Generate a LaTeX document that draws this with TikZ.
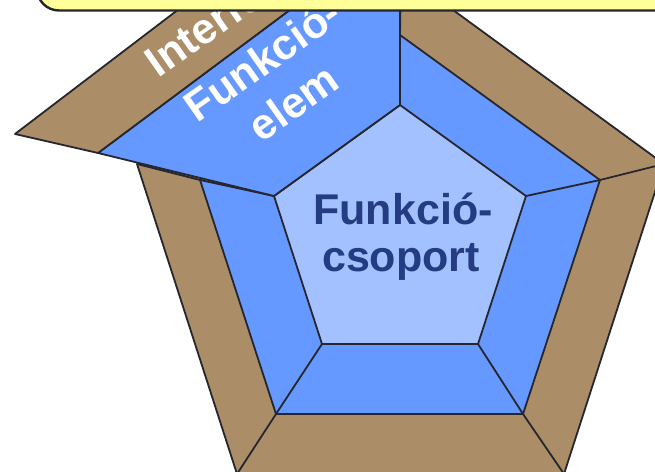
\documentclass[tikz,border=0pt]{standalone}
\usepackage{fontspec}
\setmainfont{Liberation Sans}
\usetikzlibrary{calc}
\definecolor{outCol}{HTML}{AB8D68}
\definecolor{midCol}{HTML}{6699FF}
\definecolor{inCol}{HTML}{A4C1FF}
\definecolor{edgeCol}{HTML}{26262E}
\definecolor{grpText}{HTML}{233C82}
\definecolor{noteCol}{HTML}{FFFF99}
\tikzset{
  seg/.style={draw=edgeCol, line width=1.8pt, line join=round},
  segfill/.style={seg, fill=#1},
  bigtxt/.style={font=\fontsize{43}{49}\selectfont\bfseries, inner sep=0pt, anchor=base},
  flaptxt/.style={bigtxt, text=white, rotate=35},
  note/.style={draw=edgeCol, fill=noteCol, line width=2.4pt, rounded corners=22pt},
}
\begin{document}
\begin{tikzpicture}[x=1pt,y=-1pt]
  \useasboundingbox (0,0) rectangle (655,471);
  \clip (0,0) rectangle (655,471);
  % --- vertices: inner, middle ring, outer ring ---
  \coordinate (iT) at (400,105); \coordinate (iUR) at (526,196);
  \coordinate (iLR) at (478,344); \coordinate (iLL) at (322,344);
  \coordinate (iUL) at (274,196);
  \coordinate (mT) at (400,35); \coordinate (mUR) at (600,180);
  \coordinate (mLR) at (523,414); \coordinate (mLL) at (276,414);
  \coordinate (mUL) at (200,180);
  \coordinate (oT) at (401,-28); \coordinate (oUR) at (664,164);
  \coordinate (oLR) at (564,474); \coordinate (oLL) at (237,474);
  \coordinate (oUL) at (137,164);
  % --- pentagon in place ---
  \path[segfill=outCol] (oT)--(oUR)--(oLR)--(oLL)--(oUL)--cycle;
  \path[segfill=midCol] (mT)--(mUR)--(mLR)--(mLL)--(mUL)--cycle;
  \path[segfill=inCol] (iT)--(iUR)--(iLR)--(iLL)--(iUL)--cycle;
  \foreach \v in {T,UR,LR,LL,UL} \draw[seg] (i\v)--(m\v)--(o\v);
  % --- pulled-out segment ---
  \coordinate (fB) at (98,153); \coordinate (fTop) at (330,-20);
  \coordinate (fO) at (15,134); \coordinate (fOTop) at (217,-20);
  \path[segfill=midCol] (iUL)--(fB)--(fTop)--(400,-20)--(iT)--cycle;
  \path[segfill=outCol] (fB)--(fO)--(fOTop)--(fTop)--cycle;
  % --- labels ---
  \node[flaptxt] (ifc) at (231,28) {Interfész};
  \node[flaptxt] (elemA) at (271,72) {Funkció-};
  \node[flaptxt] (elemB) at (302,115) {elem};
  \node[bigtxt, text=grpText] (grpA) at (403,224) {Funkció-};
  \node[bigtxt, text=grpText] (grpB) at (401,271) {csoport};
  % --- note box, cut off at the top ---
  \draw[note] (37,-60) rectangle (700,10.5);
\end{tikzpicture}
\end{document}
